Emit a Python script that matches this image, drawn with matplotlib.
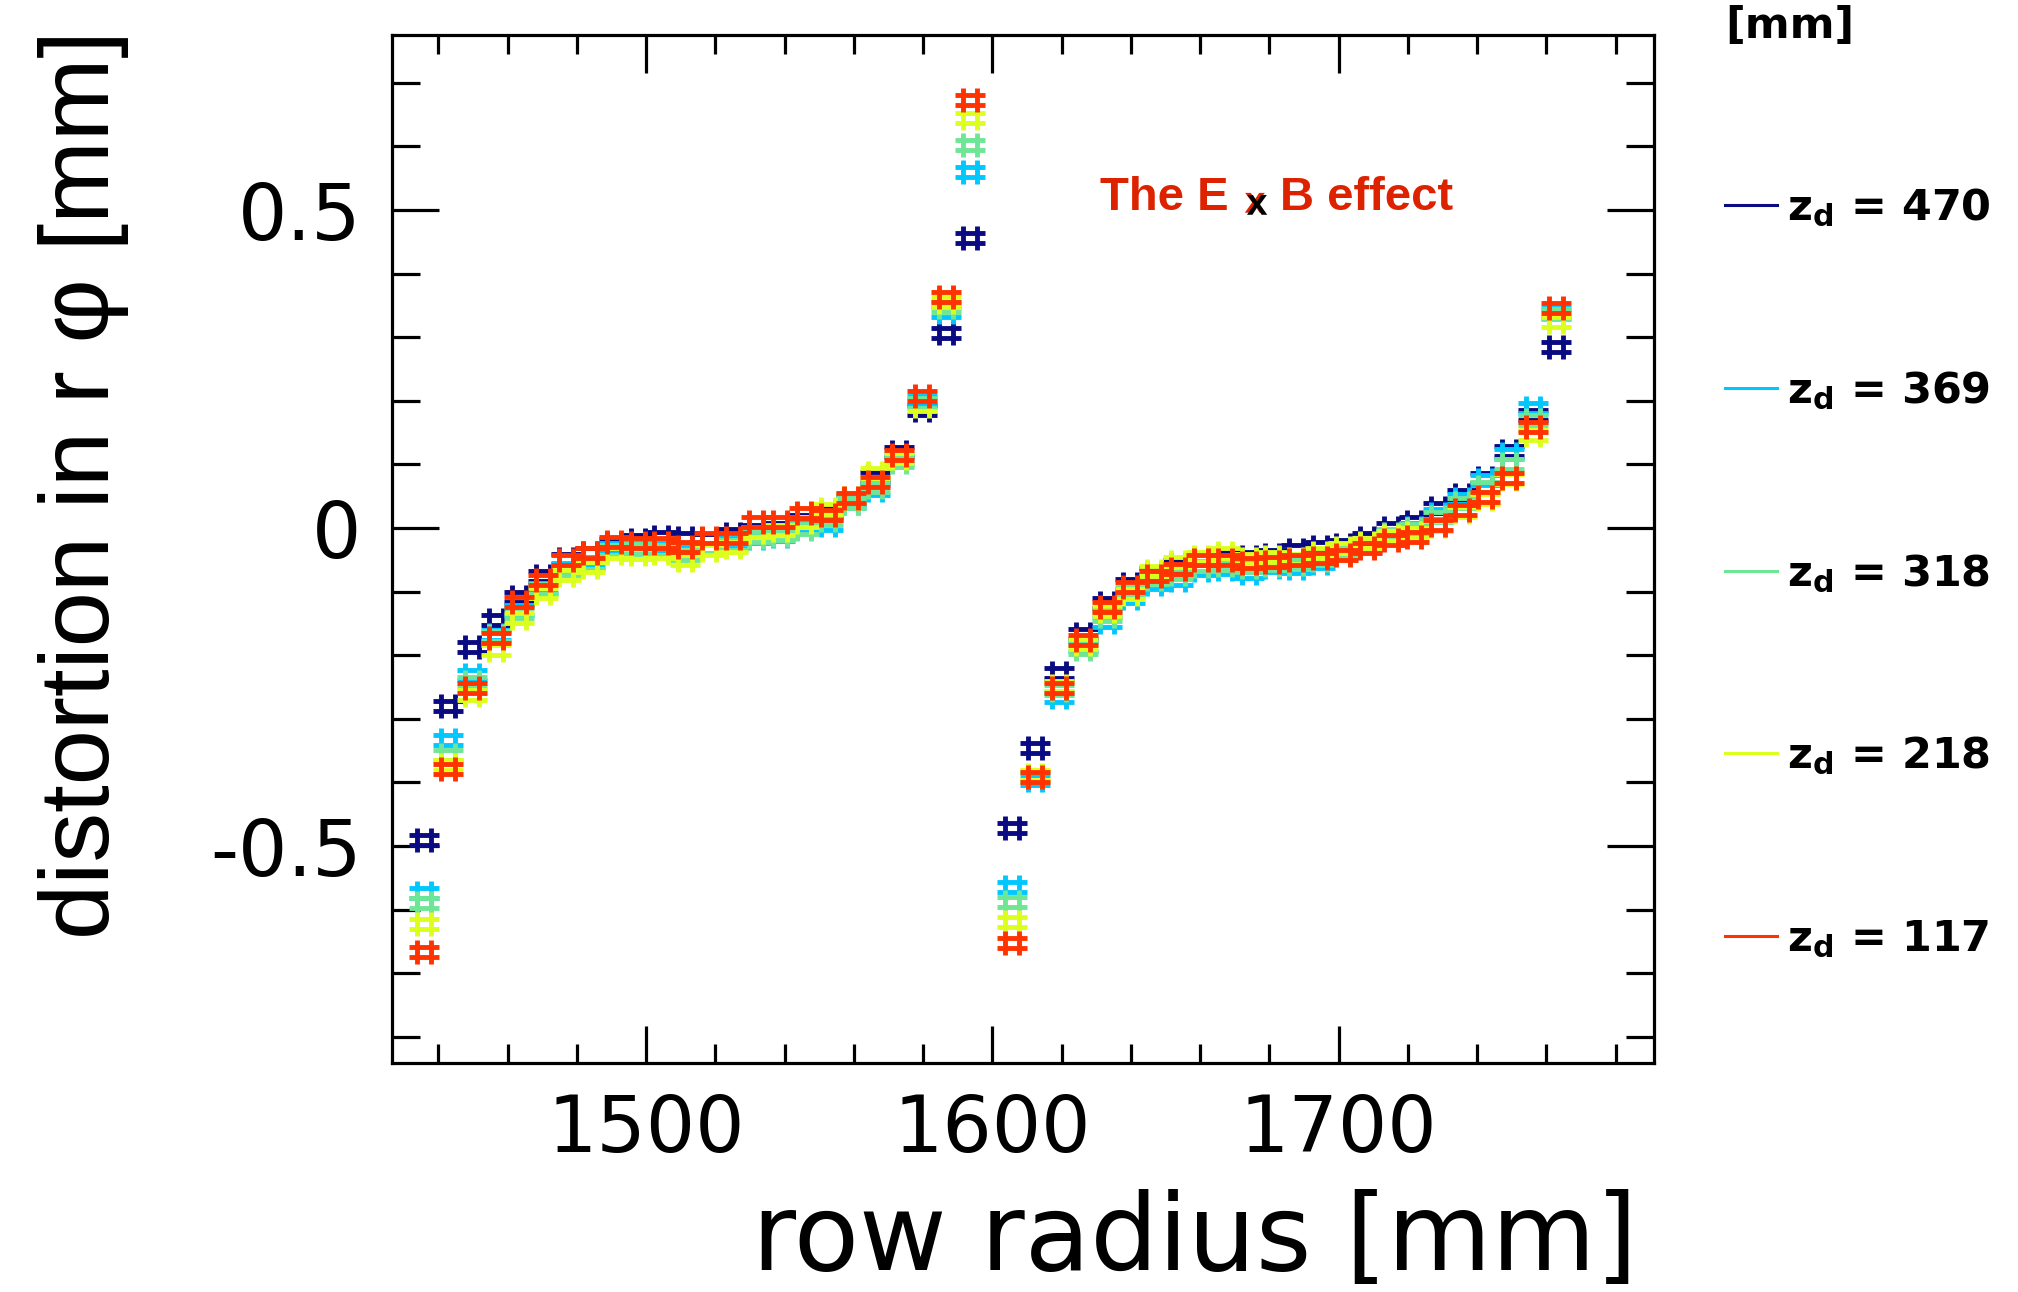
import numpy as np
import matplotlib
matplotlib.use("Agg")
import matplotlib.pyplot as plt
from matplotlib.path import Path
from matplotlib.lines import Line2D
from matplotlib.ticker import MultipleLocator, FixedLocator, FixedFormatter
import matplotlib.patheffects as pe

plt.rcParams['axes.unicode_minus'] = False

# ---------------------------------------------------------------------------
# data

z_drift = [470, 369, 318, 218, 117]
colors = ['#0a0a82', '#00c8ff', '#6ee696', '#dcff1e', '#ff3300']

# pad row radii [mm], inner and outer row groups
radius_inner = [1435.9, 1442.8, 1449.6, 1456.5, 1463.3, 1470.2, 1477.0, 1483.9,
                1490.7, 1497.6, 1504.4, 1511.3, 1518.1, 1525.0, 1531.8, 1538.7,
                1545.5, 1552.4, 1559.2, 1566.1, 1572.9, 1579.8, 1586.6, 1593.5]
radius_outer = [1605.6, 1612.4, 1619.3, 1626.1, 1633.0, 1639.8, 1646.6, 1653.5,
                1660.3, 1667.2, 1674.0, 1680.8, 1687.7, 1694.5, 1701.4, 1708.2,
                1715.0, 1721.9, 1728.7, 1735.6, 1742.4, 1749.2, 1756.1, 1762.9]

# distortion in r-phi [mm], inner rows
inner_470 = [-0.491, -0.280, -0.187, -0.145, -0.108, -0.075, -0.048, -0.040,
             -0.025, -0.019, -0.014, -0.016, -0.018, -0.010, -0.003, 0.000,
             0.012, 0.025, 0.045, 0.080, 0.120, 0.186, 0.307, 0.456]
inner_369 = [-0.574, -0.333, -0.231, -0.168, -0.129, -0.094, -0.063, -0.053,
             -0.032, -0.029, -0.029, -0.035, -0.032, -0.024, -0.016, -0.012,
             0.002, 0.005, 0.040, 0.060, 0.108, 0.200, 0.340, 0.560]
inner_318 = [-0.590, -0.357, -0.242, -0.170, -0.134, -0.096, -0.066, -0.056,
             -0.034, -0.033, -0.035, -0.043, -0.032, -0.027, -0.014, -0.011,
             -0.001, 0.012, 0.039, 0.065, 0.104, 0.196, 0.347, 0.602]
inner_218 = [-0.622, -0.372, -0.262, -0.192, -0.142, -0.102, -0.074, -0.061,
             -0.040, -0.041, -0.040, -0.050, -0.035, -0.030, -0.006, -0.003,
             0.009, 0.030, 0.047, 0.086, 0.110, 0.192, 0.355, 0.645]
inner_117 = [-0.666, -0.379, -0.252, -0.173, -0.116, -0.082, -0.050, -0.040,
             -0.022, -0.024, -0.024, -0.030, -0.016, -0.015, 0.009, 0.009,
             0.023, 0.020, 0.047, 0.073, 0.115, 0.207, 0.363, 0.673]

# distortion in r-phi [mm], outer rows
outer_470 = [-0.472, -0.346, -0.228, -0.166, -0.118, -0.088, -0.070, -0.058,
             -0.048, -0.045, -0.045, -0.042, -0.035, -0.030, -0.027, -0.016,
             0.000, 0.009, 0.031, 0.052, 0.079, 0.121, 0.178, 0.285]
outer_369 = [-0.564, -0.396, -0.265, -0.185, -0.148, -0.110, -0.088, -0.082,
             -0.066, -0.064, -0.071, -0.062, -0.063, -0.055, -0.040, -0.030,
             -0.012, 0.000, 0.022, 0.046, 0.076, 0.116, 0.189, 0.338]
outer_318 = [-0.588, -0.390, -0.255, -0.190, -0.138, -0.100, -0.080, -0.072,
             -0.060, -0.058, -0.062, -0.058, -0.057, -0.050, -0.037, -0.025,
             -0.010, -0.002, 0.017, 0.039, 0.065, 0.100, 0.170, 0.336]
outer_218 = [-0.619, -0.388, -0.248, -0.183, -0.130, -0.103, -0.068, -0.053,
             -0.045, -0.040, -0.048, -0.045, -0.048, -0.040, -0.032, -0.024,
             -0.012, -0.008, 0.003, 0.025, 0.045, 0.077, 0.146, 0.324]
outer_117 = [-0.653, -0.391, -0.252, -0.176, -0.124, -0.093, -0.075, -0.065,
             -0.050, -0.050, -0.055, -0.053, -0.050, -0.047, -0.042, -0.031,
             -0.019, -0.014, 0.005, 0.028, 0.049, 0.079, 0.158, 0.346]

inner = [inner_470, inner_369, inner_318, inner_218, inner_117]
outer = [outer_470, outer_369, outer_318, outer_218, outer_117]

# ---------------------------------------------------------------------------
# "#" shaped marker like the ROOT one

hash_marker = Path(
    [(-0.22, -0.4), (-0.22, 0.4), (0.22, -0.4), (0.22, 0.4),
     (-0.5, -0.17), (0.5, -0.17), (-0.5, 0.17), (0.5, 0.17)],
    [Path.MOVETO, Path.LINETO] * 4)

fig = plt.figure(figsize=(20.18, 12.92), dpi=100)
ax = fig.add_axes([392 / 2018, 1 - 1063 / 1292, 1262 / 2018, 1028 / 1292])

radius = radius_inner + radius_outer
for z, col, yin, yout in zip(z_drift, colors, inner, outer):
    ax.plot(radius, yin + yout, linestyle='none', marker=hash_marker,
            ms=21.5, mew=3.5, mec=col, mfc='none')

ax.set_xlim(1426.6, 1791.1)
ax.set_ylim(-0.841, 0.775)

ax.xaxis.set_major_locator(FixedLocator([1500, 1600, 1700]))
ax.xaxis.set_minor_locator(MultipleLocator(20))
ax.yaxis.set_major_locator(FixedLocator([-0.5, 0, 0.5]))
ax.yaxis.set_major_formatter(FixedFormatter(['-0.5', '0', '0.5']))
ax.yaxis.set_minor_locator(MultipleLocator(0.1))

for s in ax.spines.values():
    s.set_linewidth(2.3)
ax.tick_params(which='both', direction='in', top=True, right=True, width=2.3)
ax.tick_params(axis='x', which='major', length=27, pad=21)
ax.tick_params(axis='x', which='minor', length=14)
ax.tick_params(axis='y', which='major', length=34, pad=22)
ax.tick_params(axis='y', which='minor', length=20)
for lab in ax.get_xticklabels() + ax.get_yticklabels():
    lab.set_fontfamily('DejaVu Sans')
    lab.set_fontsize(56)

ax.set_xlabel('row radius [mm]', family='DejaVu Sans', fontsize=77,
              loc='right', va='baseline')
ax.xaxis.set_label_coords((1637 - 392) / 1262, (1063 - 1270) / 1028)
ax.set_ylabel('distortion in r φ [mm]', family=['Liberation Sans', 'DejaVu Sans'],
              fontsize=71.5, loc='top', va='center')
ax.yaxis.set_label_coords((84 - 392) / 1262, (1063 - 30) / 1028)

# legend on the right
handles = [Line2D([], [], color=c, lw=2.2) for c in colors]
labels = [r'$\mathbf{z}_{\mathbf{d}}$ = %d' % z for z in z_drift]
ax.legend(handles, labels, title='[mm]', loc='upper left',
          bbox_to_anchor=(1725 / 2018, 1 - 5 / 1292), bbox_transform=fig.transFigure,
          frameon=False, prop=dict(family='DejaVu Sans', weight='bold', size=31),
          title_fontproperties=dict(family='DejaVu Sans', weight='bold', size=31),
          handlelength=1.2, handletextpad=0.25, labelspacing=3.26,
          borderpad=0, borderaxespad=0, alignment='left')

# "The E x B effect"
red = '#dd2200'
t1 = fig.text(1100 / 2018, 1 - 210 / 1292, 'The E', color=red, fontsize=34,
              family='Liberation Sans', weight='bold', va='baseline')
t2 = ax.annotate('x', xy=(1, 0), xycoords=t1, xytext=(13, -2),
                 textcoords='offset points', color='black', fontsize=27,
                 family='Liberation Sans', weight='bold', va='bottom',
                 path_effects=[pe.withSimplePatchShadow(offset=(-1.5, 1.5),
                                                         shadow_rgbFace=red, alpha=1.0)])
t3 = ax.annotate('B effect', xy=(1, 0), xycoords=t2, xytext=(9, 2),
                 textcoords='offset points', color=red, fontsize=34,
                 family='Liberation Sans', weight='bold', va='bottom')

fig.savefig('out.png', dpi=100)
